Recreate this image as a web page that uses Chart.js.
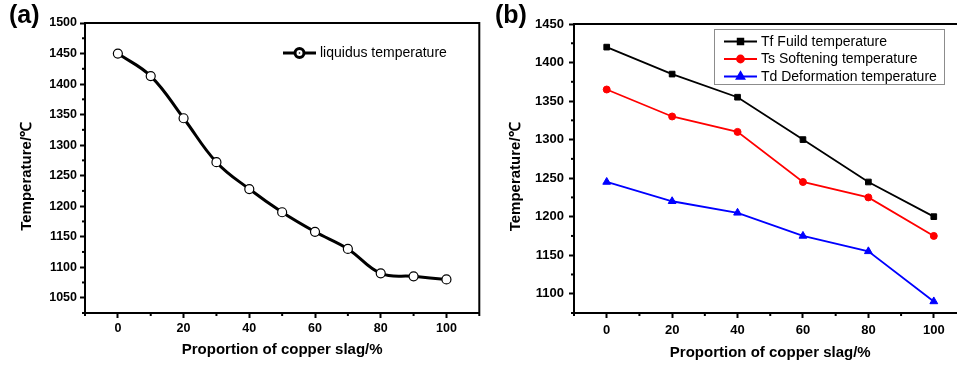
<!DOCTYPE html>
<html>
<head>
<meta charset="utf-8">
<script src="https://cdn.jsdelivr.net/npm/chart.js@4.4.0/dist/chart.umd.min.js"></script>
<style>
  html, body { margin: 0; padding: 0; background: #fff; overflow: hidden; }
  #wrap { position: relative; width: 957px; height: 365px; overflow: hidden; background: #fff; }
  canvas { position: absolute; top: 0; }
  .lab { position: absolute; top: 0px; font: bold 25px "Liberation Sans", Arial, sans-serif; color: #000; }
</style>
</head>
<body>
<div id="wrap">
  <canvas id="chartA" width="485" height="365" style="left:0"></canvas>
  <canvas id="chartB" width="492" height="365" style="left:480px"></canvas>
  <div class="lab" style="left:9px">(a)</div>
  <div class="lab" style="left:495px">(b)</div>
</div>
<script>
// data
const slagA = [0, 10, 20, 30, 40, 50, 60, 70, 80, 90, 100];
const liquidus = [1450, 1413, 1344, 1272, 1228, 1190, 1158, 1130, 1090, 1085, 1080];

const slagB = [0, 20, 40, 60, 80, 100];
const fluid = [1420, 1385, 1355, 1300, 1245, 1200];
const softening = [1365, 1330, 1310, 1245, 1225, 1175];
const deformation = [1245, 1220, 1205, 1175, 1155, 1090];

const xTicks = [0, 20, 40, 60, 80, 100];
const yTicksA = [1050, 1100, 1150, 1200, 1250, 1300, 1350, 1400, 1450, 1500];
const yTicksB = [1100, 1150, 1200, 1250, 1300, 1350, 1400, 1450];

const FONT = '"Liberation Sans", Arial, sans-serif';

function pts(xs, ys) {
  return xs.map((x, i) => ({ x: x, y: ys[i] }));
}

// top + right frame lines
const frame = {
  id: 'frame',
  afterDraw(chart) {
    const a = chart.chartArea, ctx = chart.ctx;
    ctx.save();
    ctx.strokeStyle = '#000';
    ctx.lineWidth = 2;
    ctx.beginPath();
    ctx.moveTo(a.left - 1, a.top);
    ctx.lineTo(a.right, a.top);
    ctx.lineTo(a.right, a.bottom);
    ctx.stroke();
    ctx.restore();
  }
};

// short minor ticks halfway between the major ones
const minorTicks = {
  id: 'minorTicks',
  afterDraw(chart) {
    const ctx = chart.ctx, a = chart.chartArea;
    ctx.save();
    ctx.strokeStyle = '#000';
    ctx.lineWidth = 2;
    Object.values(chart.scales).forEach(s => {
      const t = s.ticks.map(k => k.value);
      const step = t[1] - t[0];
      for (let v = t[0] - step / 2; v <= s.max + 0.001; v += step) {
        if (v < s.min - 0.001) continue;
        const p = s.getPixelForValue(v);
        ctx.beginPath();
        if (s.axis === 'x') {
          ctx.moveTo(p, a.bottom);
          ctx.lineTo(p, a.bottom + 3);
        } else {
          ctx.moveTo(a.left, p);
          ctx.lineTo(a.left - 3, p);
        }
        ctx.stroke();
      }
    });
    ctx.restore();
  }
};

function marker(ctx, d, x, y) {
  ctx.fillStyle = d.pointBackgroundColor;
  ctx.strokeStyle = d.pointBorderColor;
  Chart.helpers.drawPoint(ctx, {
    pointStyle: d.pointStyle, rotation: 0, radius: d.pointRadius, borderWidth: d.pointBorderWidth
  }, x, y);
}

// legend drawn inside the plot, line + marker sample
const legendInside = {
  id: 'legendInside',
  afterDraw(chart, args, o) {
    const ctx = chart.ctx;
    const sets = chart.data.datasets.filter(d => d.label);
    ctx.save();
    if (o.box) {
      ctx.strokeStyle = '#8c8c8c';
      ctx.lineWidth = 1;
      ctx.strokeRect(o.box[0], o.box[1], o.box[2], o.box[3]);
    }
    sets.forEach((d, i) => {
      const y = o.y + i * o.rowH;
      ctx.strokeStyle = d.borderColor;
      ctx.lineWidth = d.borderWidth;
      ctx.beginPath();
      ctx.moveTo(o.x, y);
      ctx.lineTo(o.x + o.len, y);
      ctx.stroke();
      marker(ctx, d, o.x + o.len / 2, y);
      if (o.dot) {
        ctx.fillStyle = '#000';
        ctx.beginPath();
        ctx.arc(o.x + o.len / 2, y, 0.8, 0, Math.PI * 2);
        ctx.fill();
      }
      ctx.fillStyle = '#000';
      ctx.font = '14px ' + FONT;
      ctx.textAlign = 'left';
      ctx.textBaseline = 'middle';
      ctx.fillText(d.label, o.x + o.len + o.gap, y + 0.5);
    });
    ctx.restore();
  }
};

function axes(opt) {
  const tickFont = { family: FONT, size: opt.tickSize, weight: 'bold' };
  const titleFont = { family: FONT, size: 15, weight: 'bold' };
  return {
    x: {
      type: 'linear', min: -10, max: 110,
      afterBuildTicks: s => { s.ticks = xTicks.map(v => ({ value: v })); },
      afterFit: s => { s.height = opt.xH; },
      grid: { drawOnChartArea: false, drawTicks: true, tickLength: 5, tickWidth: 2, tickColor: '#000' },
      border: { display: true, color: '#000', width: 2 },
      ticks: { color: '#000', font: tickFont, padding: opt.xPad, maxRotation: 0, callback: v => String(v) },
      title: { display: true, text: 'Proportion of copper slag/%', color: '#000', font: titleFont, padding: { bottom: opt.xTitlePad } }
    },
    y: {
      type: 'linear', min: opt.yMin, max: opt.yMax,
      afterBuildTicks: s => { s.ticks = opt.yTicks.map(v => ({ value: v })); },
      afterFit: s => { s.width = opt.yW; },
      grid: { drawOnChartArea: false, drawTicks: true, tickLength: 5, tickWidth: 2, tickColor: '#000' },
      border: { display: true, color: '#000', width: 2 },
      ticks: { color: '#000', font: tickFont, padding: opt.yPad, callback: v => String(v) },
      title: { display: true, text: 'Temperature/\u2103    ', color: '#000', font: titleFont, padding: { top: opt.yTitlePad } }
    }
  };
}

new Chart(document.getElementById('chartA'), {
  type: 'line',
  data: {
    datasets: [
      {
        label: 'liquidus temperature',
        data: pts(slagA, liquidus),
        borderColor: '#000', borderWidth: 3,
        tension: 0.4,
        pointStyle: 'circle', pointRadius: 4.5, pointBorderWidth: 1.2,
        pointBackgroundColor: '#fff', pointBorderColor: '#000'
      },
      {
        // centre dots of the open circles
        data: pts(slagA, liquidus),
        showLine: false,
        pointRadius: 0.8, pointBorderWidth: 0,
        pointBackgroundColor: '#000', pointBorderColor: '#000'
      }
    ]
  },
  options: {
    responsive: false, animation: false,
    layout: { padding: { top: 23, right: 2, left: 0, bottom: 0 } },
    plugins: {
      legend: { display: false }, tooltip: { enabled: false },
      legendInside: { x: 283, y: 53, len: 33, gap: 4, rowH: 18, dot: true }
    },
    scales: axes({ tickSize: 12.5, xH: 52, xPad: 3, xTitlePad: 6, yMin: 1025, yMax: 1500, yTicks: yTicksA, yW: 85, yPad: 3, yTitlePad: 18 })
  },
  plugins: [frame, minorTicks, legendInside]
});

new Chart(document.getElementById('chartB'), {
  type: 'line',
  data: {
    datasets: [
      {
        label: 'Tf Fuild temperature',
        data: pts(slagB, fluid),
        borderColor: '#000', borderWidth: 1.8, tension: 0,
        pointStyle: 'rect', pointRadius: 4, pointBorderWidth: 1,
        pointBackgroundColor: '#000', pointBorderColor: '#000'
      },
      {
        label: 'Ts Softening temperature',
        data: pts(slagB, softening),
        borderColor: '#ff0000', borderWidth: 1.8, tension: 0,
        pointStyle: 'circle', pointRadius: 3.5, pointBorderWidth: 1,
        pointBackgroundColor: '#ff0000', pointBorderColor: '#ff0000'
      },
      {
        label: 'Td Deformation temperature',
        data: pts(slagB, deformation),
        borderColor: '#0000ff', borderWidth: 1.8, tension: 0,
        pointStyle: 'triangle', pointRadius: 4.5, pointBorderWidth: 1,
        pointBackgroundColor: '#0000ff', pointBorderColor: '#0000ff'
      }
    ]
  },
  options: {
    responsive: false, animation: false,
    layout: { padding: { top: 24, right: 2, left: 0, bottom: 0 } },
    plugins: {
      legend: { display: false }, tooltip: { enabled: false },
      legendInside: { x: 244, y: 41.5, len: 33, gap: 4, rowH: 17.5, box: [234.5, 29.5, 230, 55] }
    },
    scales: axes({ tickSize: 13, xH: 52, xPad: 5, xTitlePad: 3, yMin: 1075, yMax: 1450, yTicks: yTicksB, yW: 94, yPad: 5, yTitlePad: 27 })
  },
  plugins: [frame, minorTicks, legendInside]
});
</script>
</body>
</html>
